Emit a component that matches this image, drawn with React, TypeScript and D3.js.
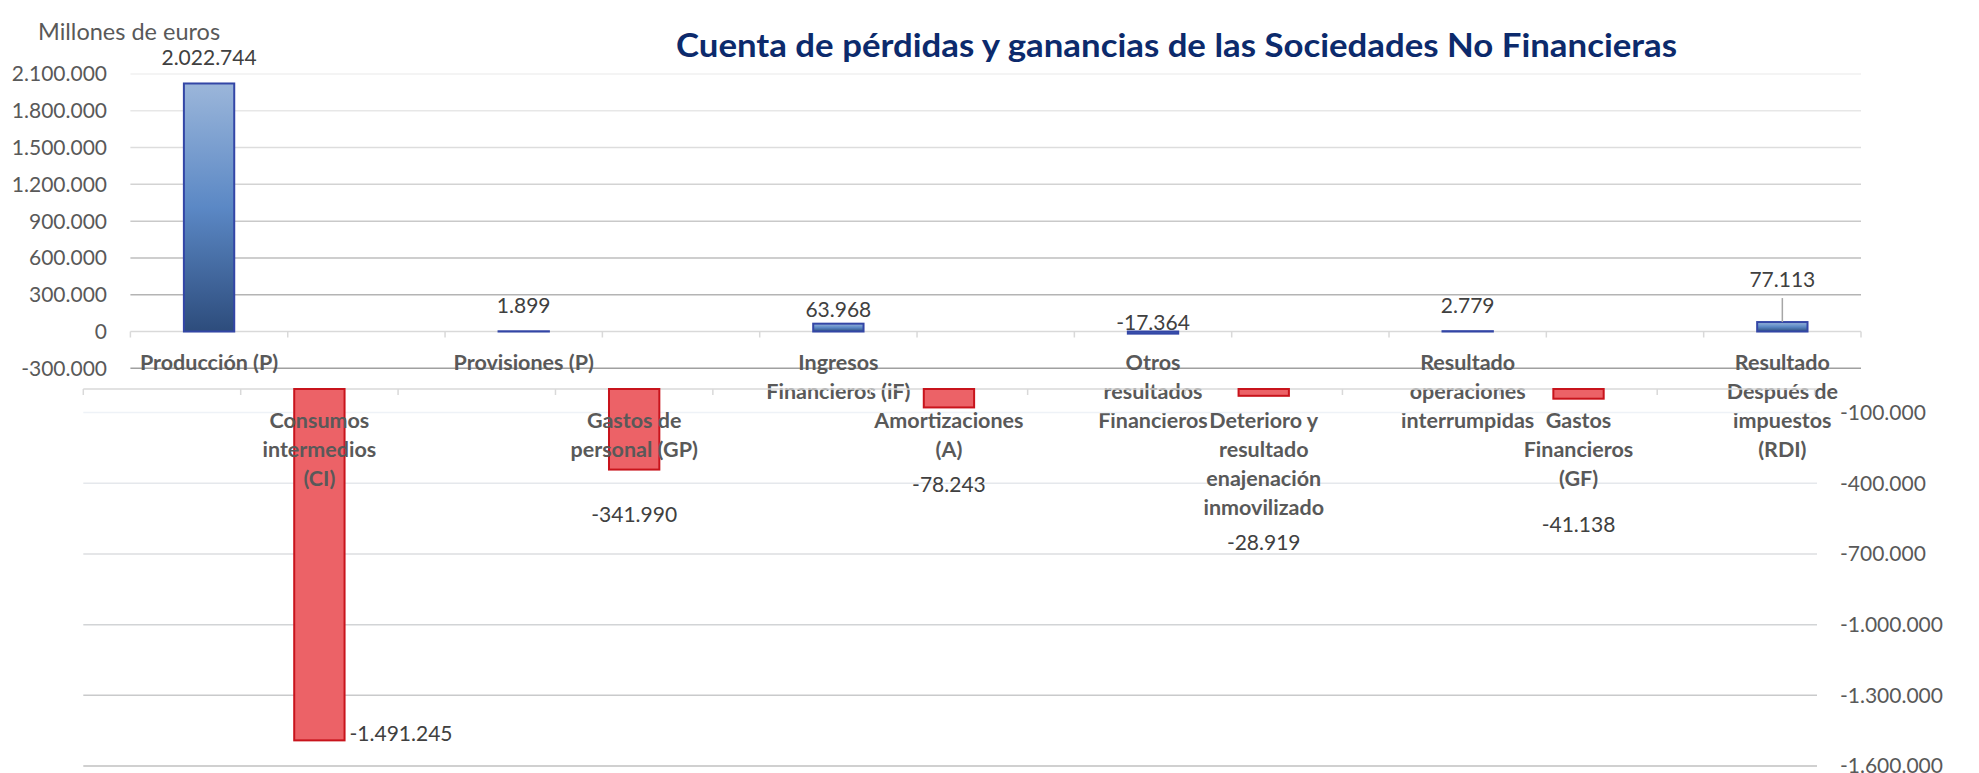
import React from "react";
import * as d3 from "d3";

// categorias (las dos graficas comparten el mismo eje de 11 categorias)
const categories = [
  "Producción (P)",
  "Consumos\nintermedios\n(CI)",
  "Provisiones (P)",
  "Gastos de\npersonal (GP)",
  "Ingresos\nFinancieros (iF)",
  "Amortizaciones\n(A)",
  "Otros\nresultados\nFinancieros",
  "Deterioro y\nresultado\nenajenación\ninmovilizado",
  "Resultado\noperaciones\ninterrumpidas",
  "Gastos\nFinancieros\n(GF)",
  "Resultado\nDespués de\nimpuestos\n(RDI)",
];

// millones de euros
const topSeries = [2022744, null, 1899, null, 63968, null, -17364, null, 2779, null, 77113];
const bottomSeries = [null, -1491245, null, -341990, null, -78243, null, -28919, null, -41138, null];

const topTicks = [-300000, 0, 300000, 600000, 900000, 1200000, 1500000, 1800000, 2100000];
const bottomTicks = [-100000, -400000, -700000, -1000000, -1300000, -1600000];

const title = "Cuenta de pérdidas y ganancias de las Sociedades No Financieras";
const unitLabel = "Millones de euros";

// ajustes manuales de las etiquetas de datos (px), como en el original
const topLabelDy = [-18, 0, -18, 0, -7, 0, -2, 0, -18, 0, -35];
const bottomLabelDy = [0, 1, 0, 52, 0, 85, 0, 154, 0, 133, 0];

const fmt = d3.formatLocale({
  decimal: ",",
  thousands: ".",
  grouping: [3],
  currency: ["", " €"],
  minus: "-",
}).format(",d");

const FONT = "Lato, 'Open Sans', sans-serif";
const GREY = "#595959";

const App = () => {
  // grafica superior (eje izquierdo)
  const xTop = d3.scaleBand<string>().domain(categories).range([130.4, 1861]);
  const yTop = d3.scaleLinear().domain([-300000, 2100000]).range([368.3, 74]);
  // grafica inferior (eje derecho), desplazada a la izquierda
  const xBot = d3.scaleBand<string>().domain(categories).range([83.3, 1814.6]);
  const yBot = d3.scaleLinear().domain([-1600000, 0]).range([766, 389]);

  const barW = xTop.bandwidth() * 0.32;
  const gridTop = d3.interpolateRgb("#f1f1f1", "#a0a0a0");
  const gridBot = d3.interpolateRgb("#eef2f7", "#c0c0c0");

  const lines = (s: string) => s.split("\n");

  return (
    <svg
      width={1979}
      height={773}
      style={{ position: "absolute", left: 0, top: 0, background: "#fff" }}
      fontFamily={FONT}
    >
      <defs>
        <linearGradient id="blueGrad" x1="0" y1="0" x2="0" y2="1">
          <stop offset="0" stopColor="#9bb6da" />
          <stop offset="0.5" stopColor="#5b88c5" />
          <stop offset="1" stopColor="#2d4c7c" />
        </linearGradient>
      </defs>

      {/* ---------- grafica superior ---------- */}
      {topTicks.map((t) =>
        t === 0 ? null : (
          <line
            key={"gt" + t}
            x1={130.4}
            x2={1861}
            y1={yTop(t)}
            y2={yTop(t)}
            stroke={gridTop((2100000 - t) / 2400000)}
            strokeWidth={1.5}
          />
        )
      )}
      {topTicks.map((t) => (
        <text
          key={"tt" + t}
          x={107}
          y={yTop(t)}
          dy="0.35em"
          textAnchor="end"
          fontSize={21}
          fill={GREY}
        >
          {fmt(t)}
        </text>
      ))}
      {/* eje de categorias */}
      <line x1={130.4} x2={1861} y1={yTop(0)} y2={yTop(0)} stroke="#d9d9d9" strokeWidth={1.5} />
      {d3.range(categories.length + 1).map((i) => (
        <line
          key={"tk" + i}
          x1={130.4 + i * xTop.step()}
          x2={130.4 + i * xTop.step()}
          y1={yTop(0)}
          y2={yTop(0) + 6}
          stroke="#d9d9d9"
          strokeWidth={1.5}
        />
      ))}
      {categories.map((c, i) => {
        const v = topSeries[i];
        if (v === null) return null;
        const cx = xTop(c)! + xTop.bandwidth() / 2;
        const y0 = yTop(Math.max(v, 0));
        const h = Math.abs(yTop(v) - yTop(0));
        return (
          <rect
            key={"tb" + i}
            x={cx - barW / 2}
            y={y0}
            width={barW}
            height={h}
            fill="url(#blueGrad)"
            stroke="#3346a6"
            strokeWidth={2}
          />
        );
      })}
      {categories.map((c, i) => {
        const v = topSeries[i];
        if (v === null) return null;
        const cx = xTop(c)! + xTop.bandwidth() / 2;
        const ly = v >= 0 ? yTop(v) + topLabelDy[i] : yTop(0) + topLabelDy[i];
        return (
          <g key={"tl" + i}>
            {topLabelDy[i] < -25 && (
              <line x1={cx} x2={cx} y1={ly + 11} y2={yTop(v)} stroke="#a6a6a6" strokeWidth={1.5} />
            )}
            <text x={cx} y={ly} textAnchor="middle" fontSize={21} fill="#404040">
              {fmt(v)}
            </text>
          </g>
        );
      })}
      {categories.map((c, i) =>
        topSeries[i] === null ? null : (
          <text
            key={"tc" + i}
            x={xTop(c)! + xTop.bandwidth() / 2}
            y={370}
            textAnchor="middle"
            fontSize={21.5}
            fontWeight="bold"
            fill={GREY}
          >
            {lines(c).map((l, k) => (
              <tspan key={k} x={xTop(c)! + xTop.bandwidth() / 2} dy={k === 0 ? 0 : 29}>
                {l}
              </tspan>
            ))}
          </text>
        )
      )}

      {/* ---------- grafica inferior ---------- */}
      {bottomTicks.map((t) => (
        <line
          key={"gb" + t}
          x1={83.3}
          x2={1817}
          y1={yBot(t)}
          y2={yBot(t)}
          stroke={gridBot((-100000 - t) / 1500000)}
          strokeWidth={1.5}
        />
      ))}
      {bottomTicks.map((t) => (
        <text
          key={"bt" + t}
          x={1840}
          y={yBot(t)}
          dy="0.35em"
          textAnchor="start"
          fontSize={21}
          fill={GREY}
        >
          {fmt(t)}
        </text>
      ))}
      <line x1={83.3} x2={1817} y1={yBot(0)} y2={yBot(0)} stroke="#d9d9d9" strokeWidth={1.5} />
      {d3.range(categories.length + 1).map((i) => (
        <line
          key={"bk" + i}
          x1={83.3 + i * xBot.step()}
          x2={83.3 + i * xBot.step()}
          y1={yBot(0)}
          y2={yBot(0) + 6}
          stroke="#d9d9d9"
          strokeWidth={1.5}
        />
      ))}
      {categories.map((c, i) => {
        const v = bottomSeries[i];
        if (v === null) return null;
        const cx = xBot(c)! + xBot.bandwidth() / 2;
        return (
          <rect
            key={"bb" + i}
            x={cx - barW / 2}
            y={yBot(0)}
            width={barW}
            height={yBot(v) - yBot(0)}
            fill="#ec6267"
            stroke="#c8141c"
            strokeWidth={2}
          />
        );
      })}
      {categories.map((c, i) =>
        bottomSeries[i] === null ? null : (
          <text
            key={"bc" + i}
            x={xBot(c)! + xBot.bandwidth() / 2}
            y={428}
            textAnchor="middle"
            fontSize={21.5}
            fontWeight="bold"
            fill={GREY}
          >
            {lines(c).map((l, k) => (
              <tspan key={k} x={xBot(c)! + xBot.bandwidth() / 2} dy={k === 0 ? 0 : 29}>
                {l}
              </tspan>
            ))}
          </text>
        )
      )}
      {categories.map((c, i) => {
        const v = bottomSeries[i];
        if (v === null) return null;
        const cx = xBot(c)! + xBot.bandwidth() / 2;
        // la barra mas larga lleva la etiqueta a su derecha
        const big = v < -1000000;
        return (
          <text
            key={"bl" + i}
            x={big ? cx + barW / 2 + 5 : cx}
            y={yBot(v) + bottomLabelDy[i]}
            textAnchor={big ? "start" : "middle"}
            fontSize={21}
            fill="#404040"
          >
            {fmt(v)}
          </text>
        );
      })}

      {/* titulos */}
      <text x={38} y={40} fontSize={23.5} fill={GREY}>
        {unitLabel}
      </text>
      <text
        x={676}
        y={57}
        fontSize={32}
        fontWeight="bold"
        fill="#0c2a6c"
        textLength={1001}
        lengthAdjust="spacingAndGlyphs"
      >
        {title}
      </text>
    </svg>
  );
};

export default App;
